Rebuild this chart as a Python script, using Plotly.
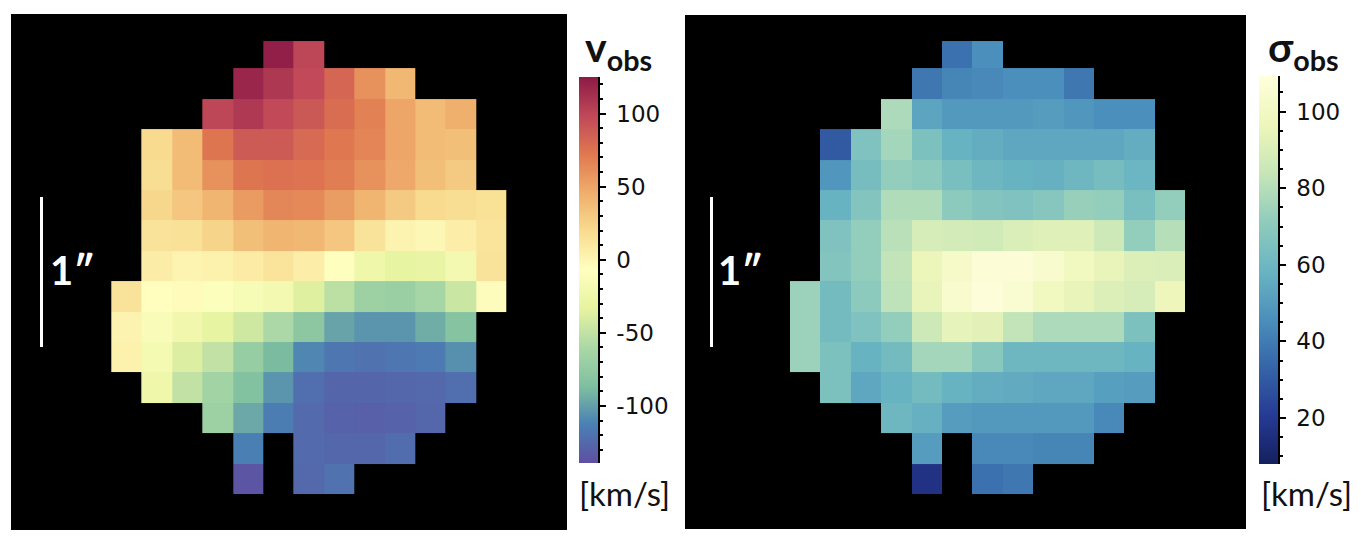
import plotly.graph_objects as go

W, H = 1364, 540
N = None

# Observed velocity [km/s], rows top to bottom, 13 columns
v_obs = [
 [N,N,N,N,N,122,100,N,N,N,N,N,N],
 [N,N,N,N,118,108,98,82,60,40,N,N,N],
 [N,N,N,100,107,98,90,78,68,50,38,45,N],
 [N,20,38,74,88,88,80,73,66,50,38,36,N],
 [N,18,38,60,74,76,75,70,60,48,36,30,N],
 [N,22,32,42,55,65,64,54,42,30,20,18,16],
 [N,14,15,24,36,42,40,32,14,2,-1,6,13],
 [N,7,1,3,8,13,6,-8,-25,-32,-30,-20,14],
 [14,-6,-4,-10,-16,-20,-36,-52,-68,-70,-62,-46,-5],
 [2,-14,-22,-32,-44,-60,-78,-98,-104,-104,-94,-82,N],
 [3,-18,-38,-50,-72,-88,-110,-118,-120,-118,-116,-106,N],
 [N,-24,-50,-65,-84,-104,-122,-127,-127,-126,-125,-122,N],
 [N,N,N,-68,-96,-114,-124,-129,-130,-128,-126,N,N],
 [N,N,N,N,-113,N,-124,-126,-126,-123,N,N,N],
 [N,N,N,N,-136,N,-125,-120,N,N,N,N,N],
]

# Observed dispersion [km/s]
sigma_obs = [
 [N,N,N,N,N,37,46,N,N,N,N,N,N],
 [N,N,N,N,39,43,44,46,46,39,N,N,N],
 [N,N,N,78,53,49,49,49,50,48,46,46,N],
 [N,30,66,76,65,58,56,54,54,54,54,56,N],
 [N,48,63,72,70,64,60,58,57,60,63,59,N],
 [N,58,67,79,79,70,67,66,68,73,72,64,72],
 [N,66,72,81,89,88,87,90,92,92,86,72,80],
 [N,67,72,83,96,102,107,107,104,99,95,91,90],
 [74,62,70,82,95,104,108,105,99,95,91,89,97],
 [74,62,66,72,86,94,93,83,78,78,78,65,N],
 [74,65,58,62,76,76,69,60,60,60,60,58,N],
 [N,65,54,58,62,58,56,55,54,54,51,50,N],
 [N,N,N,60,57,50,49,49,49,49,44,N,N],
 [N,N,N,N,50,N,44,44,43,43,N,N,N],
 [N,N,N,N,17,N,37,39,N,N,N,N,N],
]

v_range = [-139, 125]
sigma_range = [8, 109.3]
v_ticks = [-100, -50, 0, 50, 100]
sigma_ticks = [20, 40, 60, 80, 100]
row_edges = [0.1, 1, 2, 3, 4, 5, 6, 7, 8, 9, 10, 11, 12, 13, 14, 15]
col_edges = list(range(14))

spectral = [[0,"#5e4fa2"],[.1,"#4a80b4"],[.2,"#7fc0a0"],[.3,"#abd8a6"],[.4,"#e6f3a0"],
            [.5,"#ffffc0"],[.6,"#f8dc90"],[.7,"#efae6c"],[.8,"#e07850"],[.9,"#c04858"],[1,"#8c1a46"]]
ylgnbu = [[0,"#15205f"],[.125,"#263a94"],[.25,"#3565a8"],[.375,"#4b90bc"],[.5,"#6ab5c2"],
          [.625,"#90ccbc"],[.75,"#c7e6b8"],[.875,"#eef6ba"],[1,"#ffffdc"]]

def fx(p): return p / W
def fy(p): return 1 - p / H

# pixel geometry of panels: (black left, black right, black top, black bottom, first col edge, cell, row 0 top)
L = dict(l=11, r=567, t=14, b=530, x0=111.3, cell=30.4, y0=38.0, cbl=579, cbr=598, cbt=77, cbb=463)
R = dict(l=685, r=1246, t=15, b=529, x0=790, cell=30.4, y0=38.0, cbl=1259, cbr=1278, cbt=76, cbb=464)

fig = go.Figure()

def add_panel(z, g, rng, cs, ticks, minor_step, xa, ya, cxa, cya):
    xr = [(g["l"] - g["x0"]) / g["cell"], (g["r"] - g["x0"]) / g["cell"]]
    yr = [(g["b"] - g["y0"]) / g["cell"], (g["t"] - g["y0"]) / g["cell"]]
    fig.add_trace(go.Heatmap(
        z=z, x=col_edges, y=row_edges, xaxis=xa, yaxis=ya, colorscale=cs,
        zmin=rng[0], zmax=rng[1], hoverongaps=False, xgap=0, ygap=0,
        colorbar=dict(
            x=fx(g["cbl"]), xanchor="left", xref="paper", y=fy(g["cbb"]), yanchor="bottom", yref="paper",
            lenmode="fraction", len=(g["cbb"] - g["cbt"]) / H, thicknessmode="pixels",
            thickness=g["cbr"] - g["cbl"], xpad=0, ypad=0, outlinewidth=0, ticks="",
            showticklabels=False),
    ))
    nx, ny = xa.replace("x", "xaxis"), ya.replace("y", "yaxis")
    fig.update_layout({
        nx: dict(domain=[fx(g["l"]), fx(g["r"])], range=xr, visible=False, anchor=ya),
        ny: dict(domain=[fy(g["b"]), fy(g["t"])], range=yr, visible=False, anchor=xa),
    })
    # tick axis for the colour bar
    cnx, cny = cxa.replace("x", "xaxis"), cya.replace("y", "yaxis")
    fig.add_trace(go.Scatter(x=[0], y=[rng[0]], xaxis=cxa, yaxis=cya, mode="markers",
                             marker=dict(opacity=0), showlegend=False, hoverinfo="skip"))
    fig.update_layout({
        cnx: dict(domain=[fx(g["cbl"]), fx(g["cbr"])], range=[0, 1], visible=False, anchor=cya),
        cny: dict(domain=[fy(g["cbb"]), fy(g["cbt"])], range=rng, side="right", anchor=cxa,
                  tickmode="array", tickvals=ticks, ticktext=[str(t) for t in ticks],
                  ticks="outside", ticklen=6, tickwidth=1.5, tickcolor="#000",
                  minor=dict(tickmode="linear", dtick=minor_step, tick0=0, ticks="outside", ticklen=3.5, tickwidth=1.5, tickcolor="#000"),
                  showgrid=False, zeroline=False, showline=True, linecolor="#000", linewidth=1.5,
                  tickfont=dict(family="DejaVu Sans", size=23, color="#111"), ticklabelstandoff=6),
    })
    fig.add_shape(type="rect", xref="paper", yref="paper", layer="below",
                  x0=fx(g["l"]), x1=fx(g["r"]), y0=fy(g["b"]), y1=fy(g["t"]),
                  fillcolor="black", line_width=0)

add_panel(v_obs, L, v_range, spectral, v_ticks, 10, "x", "y", "x3", "y3")
add_panel(sigma_obs, R, sigma_range, ylgnbu, sigma_ticks, 5, "x2", "y2", "x4", "y4")

def text(t, x, y, size, color, family, anchor="center"):
    fig.add_annotation(text=t, xref="paper", yref="paper", x=fx(x), y=fy(y), xanchor=anchor,
                       yanchor="middle", showarrow=False, font=dict(size=size, color=color, family=family))

for bar_x, txt_x in ((41.5, 48), (711.5, 716)):
    fig.add_shape(type="line", xref="paper", yref="paper", x0=fx(bar_x), x1=fx(bar_x),
                  y0=fy(197), y1=fy(347), line=dict(color="white", width=3))
    text("<b>1″</b>", txt_x, 270, 40, "white", "Lato", "left")

text("<b>v<sub>obs</sub></b>", 618, 49, 41, "#111", "Lato")
text("<b>σ<sub>obs</sub></b>", 1303, 49, 41, "#111", "Lato")
text("[km/s]", 624, 493, 33, "#111", "Lato")
text("[km/s]", 1306, 493, 33, "#111", "Lato")

fig.update_layout(width=W, height=H, autosize=False, margin=dict(l=0, r=0, t=0, b=0, pad=0),
                  paper_bgcolor="white", plot_bgcolor="rgba(0,0,0,0)", showlegend=False)

fig.write_html("out.html", config=dict(displayModeBar=False),
               post_script="document.body.style.margin='0';document.body.style.overflow='hidden';")
